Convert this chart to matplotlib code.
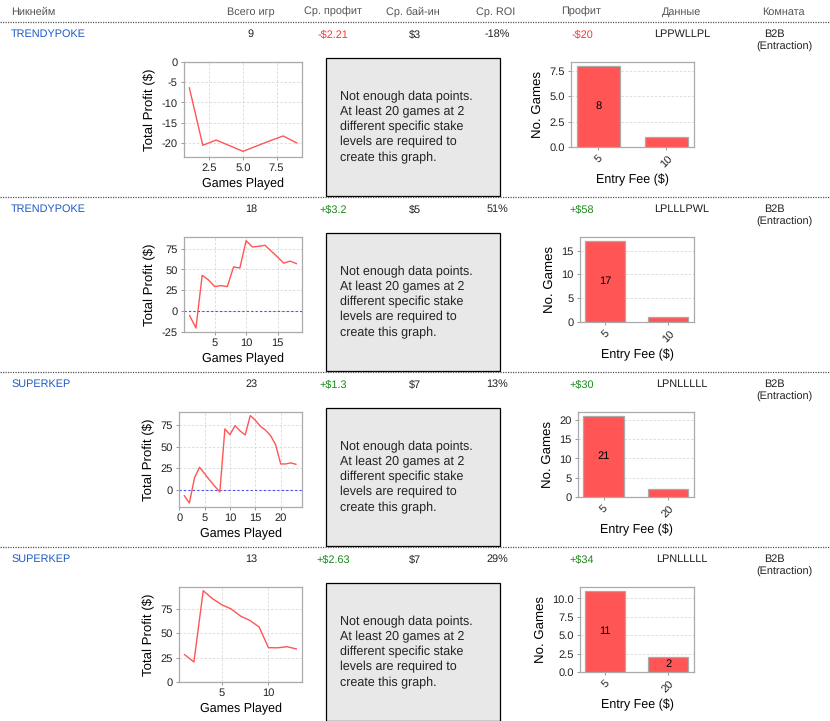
import matplotlib
matplotlib.use('Agg')
import matplotlib.pyplot as plt
from matplotlib import font_manager
from matplotlib.lines import Line2D
from matplotlib.patches import Rectangle
from matplotlib.ticker import MultipleLocator, FormatStrFormatter

W, H = 830, 721

# table data
headers = ['Никнейм', 'Всего игр', 'Ср. профит', 'Ср. бай-ин', 'Ср. ROI', 'Профит', 'Данные', 'Комната']
nicknames = ['TRENDYPOKE', 'TRENDYPOKE', 'SUPERKEP', 'SUPERKEP']
total_games = ['9', '18', '23', '13']
avg_profit = ['-$2.21', '+$3.2', '+$1.3', '+$2.63']
avg_buyin = ['$3', '$5', '$7', '$7']
avg_roi = ['-18%', '51%', '13%', '29%']
profit = ['-$20', '+$58', '+$30', '+$34']
history = ['LPPWLLPL', 'LPLLLPWL', 'LPNLLLLL', 'LPNLLLLL']
room = ['B2B', 'B2B', 'B2B', 'B2B']
room_sub = ['(Entraction)'] * 4

# cumulative profit per game
profit_1 = [-6.4, -20.6, -19.3, -20.7, -22.1, -20.8, -19.5, -18.3, -20.0]
profit_2 = [-5.6, -20.5, 42.9, 37.3, 29.3, 30.5, 29.3, 53.0, 51.7, 84.6, 77.0, 77.8, 79.0, 72.0, 65.0, 57.5, 60.0, 57.0]
profit_3 = [-7.0, -15.5, 13.5, 26.0, 18.5, 11.0, 4.0, -2.7, 70.4, 63.8, 74.2, 68.0, 63.4, 85.8, 80.4,
            73.4, 69.0, 62.6, 52.2, 29.8, 29.8, 31.0, 29.4]
profit_4 = [28.0, 20.5, 93.4, 85.2, 79.0, 74.7, 67.5, 63.0, 56.3, 35.1, 35.0, 36.1, 33.8]
curves = [profit_1, profit_2, profit_3, profit_4]

# entry fee histograms
fees = [['5', '10'], ['5', '10'], ['5', '20'], ['5', '20']]
counts = [[8, 1], [17, 1], [21, 2], [11, 2]]
shown_labels = [[True, False], [True, False], [True, False], [True, True]]

msg = ('Not enough data points.\nAt least 20 games at 2\ndifferent specific stake\n'
       'levels are required to\ncreate this graph.')

names = {f.name for f in font_manager.fontManager.ttflist}
narrow = 'Liberation Sans Narrow' if 'Liberation Sans Narrow' in names else 'Liberation Sans'
plt.rcParams['font.family'] = [narrow, 'DejaVu Sans']
plt.rcParams['axes.unicode_minus'] = False
plt.rcParams['text.hinting'] = 'no_hinting'

fig = plt.figure(figsize=(W / 100, H / 100), dpi=100)
fig.patch.set_facecolor('white')


def px(x, y):
    return x / W, 1 - y / H


def add_ax(l, t, r, b):
    return fig.add_axes([l / W, 1 - b / H, (r - l) / W, (b - t) / H])


def hline(y):
    fig.add_artist(Line2D([0, 1], [1 - y / H] * 2, transform=fig.transFigure,
                          color='#555555', lw=0.9, linestyle=(0, (1, 1))))


def style(ax):
    ax.set_facecolor('white')
    for s in ax.spines.values():
        s.set_color('#aaaaaa')
        s.set_linewidth(0.9)
    ax.grid(True, color='#d8d8d8', linestyle=(0, (3, 2)), lw=0.6)
    ax.set_axisbelow(True)
    ax.tick_params(labelsize=8, length=2.5, width=0.6, color='#888888', pad=2, labelcolor='#222222')


# header
col_x = [11, 251, 333, 413, 496, 581, 682, 783]
for i, h in enumerate(headers):
    fig.text(*px(col_x[i], 12), h, ha='left' if i == 0 else 'center', va='center',
             fontsize=7.8, color='#555555')
hline(22)

line_boxes = [(184, 62, 302, 157), (184, 237, 302, 332), (179, 412, 302, 507), (179, 587, 302, 682)]
bar_boxes = [(571, 62, 694, 147), (580, 237, 694, 322), (578, 412, 694, 497), (580, 587, 694, 672)]
line_xlim = [(0.6, 9.4), (0.1, 18.9), (-0.05, 24.2), (0.4, 13.6)]
line_ylim = [(-23.5, 0), (-25.3, 89), (-20.1, 90), (0, 97.2)]
line_xstep = [2.5, 5, 5, 5]
line_xfmt = ['%.1f', '%d', '%d', '%d']
bar_ylim = [8.4, 17.85, 22.05, 11.55]
bar_ystep = [2.5, 5, 5, 2.5]
bar_yfmt = ['%.1f', '%d', '%d', '%.1f']

for i in range(4):
    off = 175 * i
    ty = 34 + off
    fs = 7.8
    fig.text(*px(11, ty), nicknames[i], ha='left', va='center', fontsize=fs, color='#1f5bc4')
    fig.text(*px(251, ty), total_games[i], ha='center', va='center', fontsize=fs, color='#222222')
    pc = '#ff3333' if avg_profit[i].startswith('-') else '#1a8a1a'
    fig.text(*px(333, ty), avg_profit[i], ha='center', va='center', fontsize=fs, color=pc)
    fig.text(*px(415, ty), avg_buyin[i], ha='center', va='center', fontsize=fs, color='#222222')
    fig.text(*px(497, ty), avg_roi[i], ha='center', va='center', fontsize=fs, color='#222222')
    pc = '#ff3333' if profit[i].startswith('-') else '#1a8a1a'
    fig.text(*px(582, ty), profit[i], ha='center', va='center', fontsize=fs, color=pc)
    fig.text(*px(682, ty), history[i], ha='center', va='center', fontsize=fs, color='#222222')
    fig.text(*px(774, ty), room[i], ha='center', va='center', fontsize=fs, color='#222222')
    fig.text(*px(784, ty + 13), room_sub[i], ha='center', va='center', fontsize=fs, color='#222222')

    # profit curve
    ax = add_ax(*line_boxes[i])
    style(ax)
    y = curves[i]
    x = list(range(1, len(y) + 1))
    ax.axhline(0, color='#4a4aff', lw=0.8, linestyle=(0, (2, 2)), zorder=2)
    ax.plot(x, y, color='#ff5555', lw=1.0, zorder=3)
    ax.set_xlim(*line_xlim[i])
    ax.set_ylim(*line_ylim[i])
    ax.xaxis.set_major_locator(MultipleLocator(line_xstep[i]))
    ax.xaxis.set_major_formatter(FormatStrFormatter(line_xfmt[i]))
    ax.yaxis.set_major_locator(MultipleLocator(5 if i == 0 else 25))
    ax.set_xlabel('Games Played', fontsize=9, labelpad=3)
    ax.set_ylabel('Total Profit ($)', fontsize=9.5, labelpad=4)

    # message box
    l, t, r, b = 326, 58 + off, 500, 196 + off
    fig.add_artist(Rectangle(px(l, b), (r - l) / W, (b - t) / H, transform=fig.transFigure,
                             facecolor='#e8e8e8', edgecolor='black', lw=0.9))
    fig.text(*px(340, 127 + off), msg, ha='left', va='center', fontsize=9,
             linespacing=1.33, color='#222222')

    # entry fee bars
    bx = add_ax(*bar_boxes[i])
    style(bx)
    bx.xaxis.grid(False)
    pos = list(range(len(fees[i])))
    bars = bx.bar(pos, counts[i], width=0.63, color='#ff5555', edgecolor='#aaaaaa', lw=0.9, zorder=3)
    for rect, c, show in zip(bars, counts[i], shown_labels[i]):
        if show:
            bx.text(rect.get_x() + rect.get_width() / 2, c / 2, str(c), ha='center', va='center',
                    fontsize=8, color='black', zorder=4)
    bx.set_xticks(pos)
    bx.set_xticklabels(fees[i], rotation=45, ha='center')
    bx.set_xlim(-0.4, 1.41)
    bx.set_ylim(0, bar_ylim[i])
    bx.yaxis.set_major_locator(MultipleLocator(bar_ystep[i]))
    bx.yaxis.set_major_formatter(FormatStrFormatter(bar_yfmt[i]))
    bx.set_xlabel('Entry Fee ($)', fontsize=9, labelpad=3)
    bx.set_ylabel('No. Games', fontsize=9.5, labelpad=4)

    hline(197 + off)

fig.savefig('out.png', dpi=100, facecolor='white')
